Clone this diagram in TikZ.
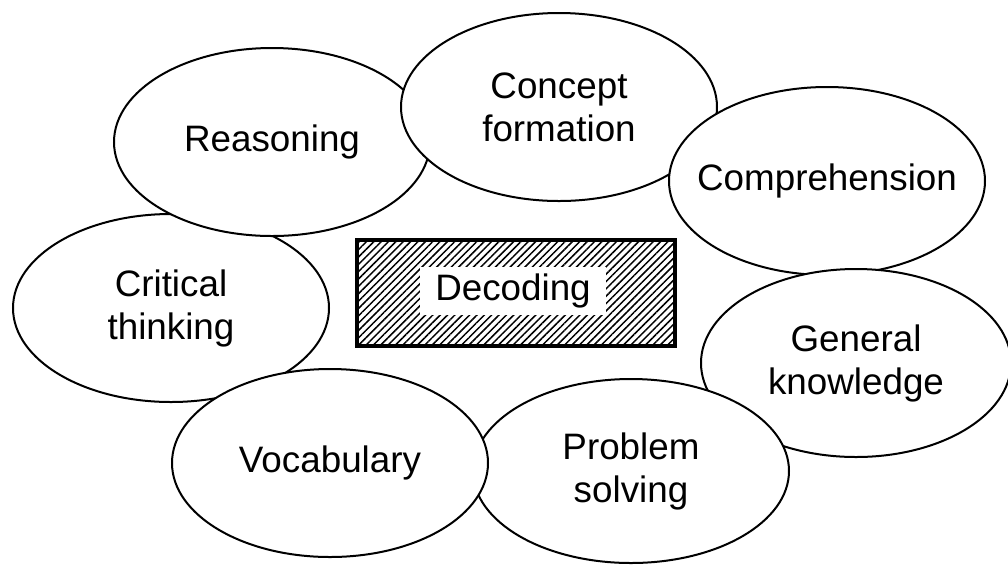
\documentclass[tikz,border=0pt]{standalone}
\usepackage{fontspec}
\setmainfont{Liberation Sans}
\usetikzlibrary{shapes.geometric,patterns.meta}
\begin{document}
\begin{tikzpicture}[x=0.5pt,y=-0.5pt,
  bub/.style={ellipse,draw=black,fill=white,line width=1pt,inner sep=0pt,
    minimum width=158pt,minimum height=94pt,align=center,
    font=\fontsize{18.4}{21.5}\selectfont},
  hatchbox/.style={draw=black,line width=2pt,inner sep=0pt,
    pattern={Lines[angle=45,distance=2.6pt,line width=0.75pt]}},
  labelbox/.style={fill=white,inner xsep=7.5pt,inner ysep=0pt,minimum height=24pt,
    font=\fontsize{18.4}{21.5}\selectfont}]
\useasboundingbox (0,0) rectangle (1008,564);
\node[bub] (crit) at (171,308) {Critical\\thinking};
\node[bub] (reas) at (272,142) {Reasoning};
\node[bub] (conc) at (559,107) {Concept\\formation};
\node[bub] (comp) at (827,181) {\makebox[0pt]{Comprehension}};
\node[bub,minimum width=155pt] (gen) at (856,363) {General\\knowledge};
\node[bub,minimum height=92pt] (prob) at (631,471) {Problem\\solving};
\node[bub] (voc) at (330,463) {Vocabulary};
\node[hatchbox,minimum width=159pt,minimum height=53pt] (deccell) at (516,293) {};
\node[labelbox] (dec) at (513,291) {Decoding};
\end{tikzpicture}
\end{document}
